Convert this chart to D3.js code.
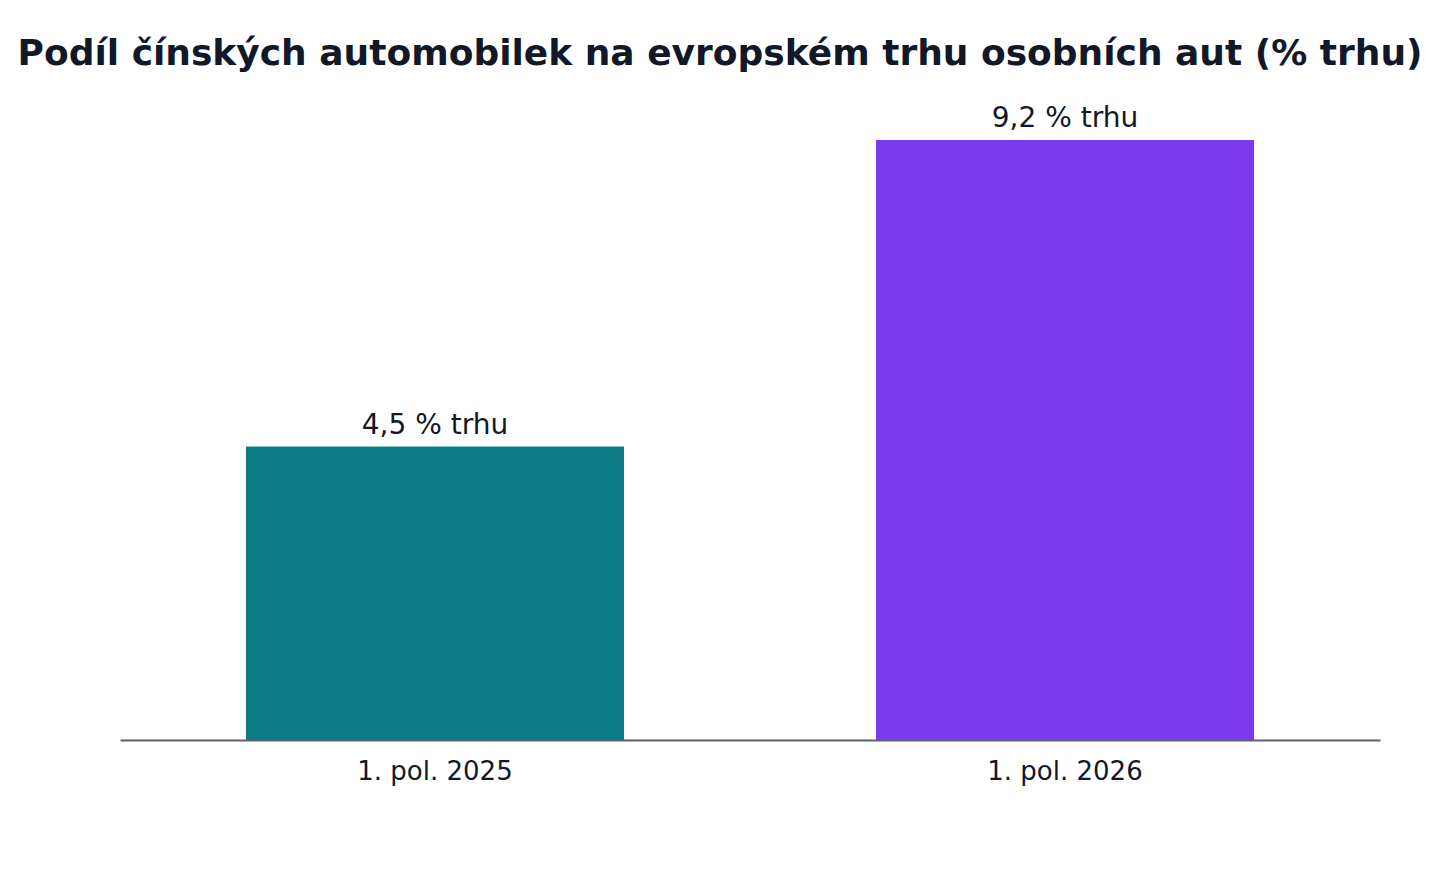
<!DOCTYPE html>
<html lang="cs">
<head>
<meta charset="utf-8">
<script src="https://cdn.jsdelivr.net/npm/d3@7"></script>
<style>
  html, body { margin: 0; padding: 0; background: #ffffff; }
  svg { display: block; }
</style>
</head>
<body>
<svg id="chart" width="1440" height="880"></svg>
<script>
const title = "Podíl čínských automobilek na evropském trhu osobních aut (% trhu)";
const categories = ["1. pol. 2025", "1. pol. 2026"];
const values = [4.5, 9.2];
const valueLabels = ["4,5 % trhu", "9,2 % trhu"];
const colors = ["#0c7b85", "#7c3aed"];

const W = 1440, H = 880;
const margin = { top: 50, right: 60, bottom: 140, left: 120 };
const svg = d3.select("#chart");

const x = d3.scaleBand()
  .domain(categories)
  .range([margin.left, W - margin.right])
  .paddingInner(0.4)
  .paddingOuter(0.2);

const y = d3.scaleLinear()
  .domain([0, d3.max(values) * 1.15])
  .range([H - margin.bottom, margin.top]);

svg.append("text")
  .attr("x", W / 2)
  .attr("y", 65)
  .attr("text-anchor", "middle")
  .attr("font-family", "DejaVu Sans, sans-serif")
  .attr("font-weight", "bold")
  .attr("font-size", 36)
  .attr("fill", "#111827")
  .text(title);

const data = categories.map((c, i) => ({ c, v: values[i], label: valueLabels[i], color: colors[i] }));

svg.selectAll("rect.bar")
  .data(data)
  .join("rect")
  .attr("class", "bar")
  .attr("x", d => x(d.c))
  .attr("y", d => y(d.v))
  .attr("width", x.bandwidth())
  .attr("height", d => y(0) - y(d.v))
  .attr("fill", d => d.color);

svg.selectAll("text.val")
  .data(data)
  .join("text")
  .attr("class", "val")
  .attr("x", d => x(d.c) + x.bandwidth() / 2)
  .attr("y", d => y(d.v) - 13)
  .attr("text-anchor", "middle")
  .attr("font-family", "DejaVu Sans, sans-serif")
  .attr("font-size", 28)
  .attr("fill", "#111827")
  .text(d => d.label);

const xAxis = svg.append("g")
  .attr("transform", `translate(0,${y(0)})`)
  .call(d3.axisBottom(x).tickSize(0).tickPadding(0));

xAxis.select(".domain")
  .attr("stroke", "#5b6072")
  .attr("stroke-width", 2);

xAxis.selectAll(".tick text")
  .attr("dy", null)
  .attr("y", 40)
  .attr("font-family", "DejaVu Sans, sans-serif")
  .attr("font-size", 26)
  .attr("fill", "#111827");
</script>
</body>
</html>
